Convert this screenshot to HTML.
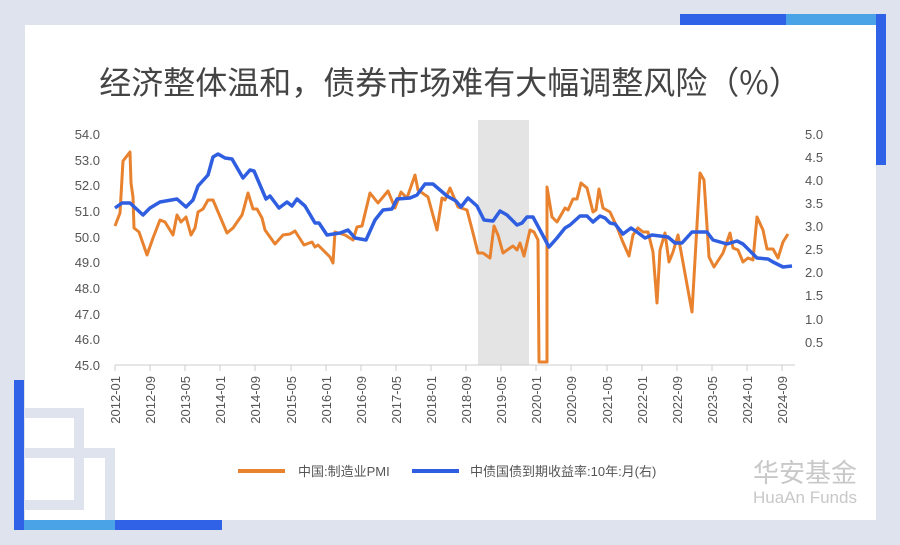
<!DOCTYPE html><html><head><meta charset="utf-8"><style>
body{margin:0;width:900px;height:545px;background:#dfe3ee;position:relative;overflow:hidden;font-family:"Liberation Sans","Noto Sans CJK SC",sans-serif}
.card{position:absolute;left:25px;top:25px;width:851px;height:495px;background:#fff}
.b{position:absolute}
</style></head><body>
<div class="card"></div>
<div class="b" style="left:25px;top:408px;width:49px;height:82px;border:10px solid #dfe3ee;border-left:none"></div>
<div class="b" style="left:25px;top:448px;width:80px;height:62px;border:10px solid #dfe3ee;border-left:none;border-bottom:none"></div>
<div class="b" style="left:680px;top:14px;width:106px;height:11px;background:#2f62e6"></div>
<div class="b" style="left:786px;top:14px;width:90px;height:11px;background:#4aa3e6"></div>
<div class="b" style="left:876px;top:14px;width:10px;height:151px;background:#2f62e6"></div>
<div class="b" style="left:14px;top:380px;width:10px;height:150px;background:#2f62e6"></div>
<div class="b" style="left:24px;top:520px;width:91px;height:10px;background:#4aa3e6"></div>
<div class="b" style="left:115px;top:520px;width:107px;height:10px;background:#2f62e6"></div>
<svg class="b" style="left:0;top:0" width="900" height="545" xmlns="http://www.w3.org/2000/svg" font-family="Liberation Sans, Noto Sans CJK SC, sans-serif">
<text x="450" y="94" text-anchor="middle" font-size="32" fill="#444" font-family="Noto Sans CJK SC, sans-serif">经济整体温和，债券市场难有大幅调整风险（%）</text>
<rect x="478" y="120" width="51" height="245" fill="#e4e4e4"/>
<g font-size="13" fill="#555" text-anchor="end">
<text x="100" y="139">54.0</text><text x="100" y="165">53.0</text><text x="100" y="190">52.0</text><text x="100" y="216">51.0</text><text x="100" y="242">50.0</text><text x="100" y="267">49.0</text><text x="100" y="293">48.0</text><text x="100" y="319">47.0</text><text x="100" y="344">46.0</text><text x="100" y="370">45.0</text>
</g>
<g font-size="13" fill="#555">
<text x="805" y="139">5.0</text><text x="805" y="162">4.5</text><text x="805" y="185">4.0</text><text x="805" y="208">3.5</text><text x="805" y="231">3.0</text><text x="805" y="254">2.5</text><text x="805" y="277">2.0</text><text x="805" y="300">1.5</text><text x="805" y="324">1.0</text><text x="805" y="347">0.5</text>
</g>
<line x1="115" y1="365" x2="795" y2="365" stroke="#ccc"/>
<g stroke="#ccc">
<line x1="115" y1="365" x2="115" y2="371"/><line x1="150" y1="365" x2="150" y2="371"/><line x1="185" y1="365" x2="185" y2="371"/><line x1="220" y1="365" x2="220" y2="371"/><line x1="255" y1="365" x2="255" y2="371"/><line x1="291" y1="365" x2="291" y2="371"/><line x1="326" y1="365" x2="326" y2="371"/><line x1="361" y1="365" x2="361" y2="371"/><line x1="396" y1="365" x2="396" y2="371"/><line x1="431" y1="365" x2="431" y2="371"/><line x1="466" y1="365" x2="466" y2="371"/><line x1="501" y1="365" x2="501" y2="371"/><line x1="536" y1="365" x2="536" y2="371"/><line x1="571" y1="365" x2="571" y2="371"/><line x1="607" y1="365" x2="607" y2="371"/><line x1="642" y1="365" x2="642" y2="371"/><line x1="677" y1="365" x2="677" y2="371"/><line x1="712" y1="365" x2="712" y2="371"/><line x1="747" y1="365" x2="747" y2="371"/><line x1="782" y1="365" x2="782" y2="371"/>
</g>
<g font-size="13" fill="#555" text-anchor="end">
<text transform="translate(120,376) rotate(-90)">2012-01</text><text transform="translate(155,376) rotate(-90)">2012-09</text><text transform="translate(190,376) rotate(-90)">2013-05</text><text transform="translate(225,376) rotate(-90)">2014-01</text><text transform="translate(260,376) rotate(-90)">2014-09</text><text transform="translate(296,376) rotate(-90)">2015-05</text><text transform="translate(331,376) rotate(-90)">2016-01</text><text transform="translate(366,376) rotate(-90)">2016-09</text><text transform="translate(401,376) rotate(-90)">2017-05</text><text transform="translate(436,376) rotate(-90)">2018-01</text><text transform="translate(471,376) rotate(-90)">2018-09</text><text transform="translate(506,376) rotate(-90)">2019-05</text><text transform="translate(541,376) rotate(-90)">2020-01</text><text transform="translate(576,376) rotate(-90)">2020-09</text><text transform="translate(612,376) rotate(-90)">2021-05</text><text transform="translate(647,376) rotate(-90)">2022-01</text><text transform="translate(682,376) rotate(-90)">2022-09</text><text transform="translate(717,376) rotate(-90)">2023-05</text><text transform="translate(752,376) rotate(-90)">2024-01</text><text transform="translate(787,376) rotate(-90)">2024-09</text>
</g>
<polyline fill="none" stroke="#e8822e" stroke-width="3" stroke-linejoin="round" points="115,226 120,213 123,161 130,152 131,183 133,197 134,228 139,232 147,255 153,238 160,220 165,222 173,235 177,215 181,222 186,217 191,235 195,228 198,212 203,209 208,200 213,200 227,233 233,228 242,215 244,208 248,193 253,209 257,209 262,218 265,230 275,244 283,235 290,234 295,231 304,245 312,242 315,247 318,245 330,257 333,263 335,232 345,235 353,240 357,227 362,226 370,193 378,203 388,191 395,208 401,192 407,198 415,175 418,190 428,197 437,230 442,198 445,200 450,188 458,207 467,210 473,233 478,253 483,253 490,258 494,226 498,235 503,253 510,248 513,246 517,250 520,243 524,256 530,230 534,232 538,240 539,362 547,362 547,187 552,217 557,222 565,208 568,210 573,199 577,199 581,183 587,188 593,212 596,210 599,189 603,208 610,212 617,227 622,240 629,256 633,235 638,228 643,232 648,232 653,252 657,303 660,250 665,233 669,262 673,252 678,235 692,312 700,173 704,180 709,257 714,267 723,253 730,233 733,248 738,250 743,262 748,258 753,260 757,217 763,230 767,249 773,249 778,258 783,242 788,234"/>
<polyline fill="none" stroke="#2f5fe0" stroke-width="3.5" stroke-linejoin="round" points="115,208 122,203 130,203 143,215 150,208 160,202 177,199 186,207 193,200 198,186 208,175 213,157 218,154 225,158 232,159 243,178 250,170 254,171 266,199 270,196 279,208 287,202 292,206 297,199 305,206 315,223 319,223 327,235 340,233 348,230 355,238 366,240 375,220 383,210 392,209 397,199 410,198 417,195 425,184 433,184 447,196 456,201 461,207 468,198 477,206 484,220 493,221 500,211 507,215 517,225 522,223 527,217 533,217 540,230 549,247 557,238 565,228 570,225 580,216 587,216 593,222 600,216 605,218 610,223 615,224 623,234 631,228 637,232 645,238 652,235 668,237 675,243 682,243 692,232 707,232 713,240 727,244 737,241 743,244 757,258 768,259 773,262 783,267 792,266"/>
<line x1="238" y1="471" x2="285" y2="471" stroke="#e8822e" stroke-width="4"/>
<text x="298" y="476" font-size="13" fill="#555">中国:制造业PMI</text>
<line x1="412" y1="471" x2="459" y2="471" stroke="#2f5fe0" stroke-width="4"/>
<text x="470" y="476" font-size="13" fill="#555">中债国债到期收益率:10年:月(右)</text>
<text x="805" y="482" text-anchor="middle" font-size="26" fill="#c8c8c8" font-family="Noto Sans CJK SC, sans-serif">华安基金</text>
<text x="805" y="503" text-anchor="middle" font-size="17" fill="#c8c8c8">HuaAn Funds</text>
</svg>
</body></html>
